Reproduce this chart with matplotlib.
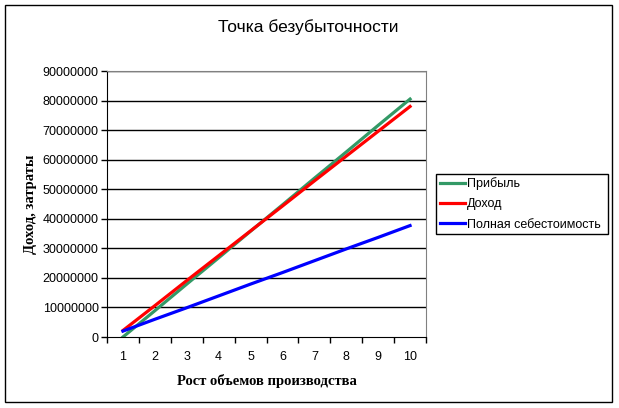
"""
Точка безубыточности - Excel style chart
"""

import numpy as np
import matplotlib
matplotlib.use('Agg')
import matplotlib.pyplot as plt
from matplotlib.patches import Rectangle

# data, in roubles
volume = [1, 2, 3, 4, 5, 6, 7, 8, 9, 10]
profit = [0.0e6, 8.9e6, 17.9e6, 26.8e6, 35.8e6, 44.7e6, 53.7e6, 62.6e6, 71.6e6, 80.5e6]
income = [2.2e6, 10.6e6, 19.1e6, 27.5e6, 35.9e6, 44.3e6, 52.8e6, 61.2e6, 69.6e6, 78.0e6]
full_cost = [2.0e6, 6.0e6, 9.9e6, 13.9e6, 17.9e6, 21.8e6, 25.8e6, 29.8e6, 33.7e6, 37.7e6]
y_ticks = [0, 10000000, 20000000, 30000000, 40000000, 50000000,
           60000000, 70000000, 80000000, 90000000]

plt.rcParams['font.family'] = 'Liberation Sans'

W, H = 619, 408
fig = plt.figure(figsize=(W/100, H/100), dpi=100)

# outer chart frame
fig.patches.append(Rectangle((5/W, 1-402/H), (612-5)/W, (402-5)/H,
                             transform=fig.transFigure, fill=False,
                             edgecolor='black', linewidth=1.0))

ax = fig.add_axes([107/W, 1-337/H, (426-107)/W, (337-71)/H])
pos = np.arange(len(volume))

ax.plot(pos, profit, color='#339966', lw=2.3, label='Прибыль')
ax.plot(pos, income, color='#FF0000', lw=2.3, label='Доход')
ax.plot(pos, full_cost, color='#0000FF', lw=2.3, label='Полная себестоимость')

ax.set_xlim(-0.5, len(volume)-0.5)
ax.set_ylim(0, 90000000)

ax.set_yticks(y_ticks)
ax.set_yticklabels([str(v) for v in y_ticks], fontsize=9)
for v in y_ticks[1:]:
    ax.axhline(v, color='black', lw=1.0, zorder=0)

# category axis: tick marks between categories, labels centered
ax.set_xticks(np.arange(len(volume)+1) - 0.5)
ax.set_xticklabels([])
ax.set_xticks(pos, minor=True)
ax.set_xticklabels([str(v) for v in volume], minor=True, fontsize=9)
ax.tick_params(axis='x', which='minor', length=0, pad=10)
ax.tick_params(axis='x', which='major', direction='out', length=4, width=1)
ax.tick_params(axis='y', direction='out', length=4, width=1, pad=2)

for s in ['top', 'right']:
    ax.spines[s].set_color('#808080')
for s in ['left', 'bottom']:
    ax.spines[s].set_color('black')

ax.set_xlabel('Рост объемов производства', family='Liberation Serif',
              fontweight='bold', fontsize=10.5, labelpad=8)
ax.set_ylabel('Доход, затраты', family='Liberation Serif',
              fontweight='bold', fontsize=10.5, labelpad=4)

fig.text(308/W, 1-27/H, 'Точка безубыточности', ha='center', va='center', fontsize=12.5)

leg = ax.legend(loc='center left', bbox_to_anchor=(436/W, 1-235/H, (608-436)/W, (235-173)/H),
                bbox_transform=fig.transFigure, mode='expand', fancybox=False,
                edgecolor='black', framealpha=1, fontsize=9, handlelength=2.0,
                handletextpad=0.2, borderpad=0.3, labelspacing=0.65, borderaxespad=0)
leg.get_frame().set_linewidth(1.0)

fig.savefig('out.png', dpi=100)
